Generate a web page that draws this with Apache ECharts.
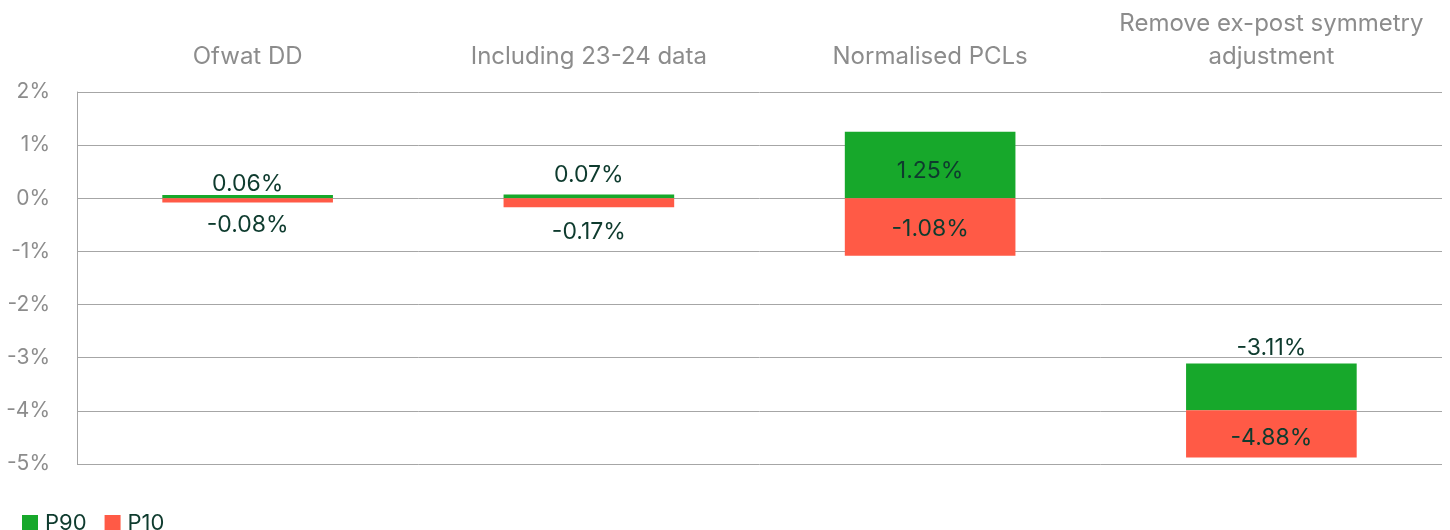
<!DOCTYPE html>
<html>
<head>
<meta charset="utf-8">
<script src="https://cdn.jsdelivr.net/npm/echarts@6/dist/echarts.min.js"></script>
<style>
html,body{margin:0;padding:0;background:#fff;}
#chart{width:1450px;height:530px;}
</style>
</head>
<body>
<div id="chart"></div>
<script>
// ---- data ----
const categories = ['Ofwat DD', 'Including 23-24 data', 'Normalised PCLs', 'Remove ex-post symmetry\nadjustment'];
const p90 = [0.06, 0.07, 1.25, -3.11];
const p10 = [-0.08, -0.17, -1.08, -4.88];
const base = [0, 0, 0, -3.99];   // floating base where the two bars meet
const yTicks = [-5, -4, -3, -2, -1, 0, 1, 2];

// ---- styling ----
const FONT = 'Inter';
const GREEN = '#17a82b';
const RED = '#ff5a46';
const LABEL = '#0e3b2e';
const AXIS = '#8c8c8c';
const p90Pos = ['top', 'top', 'inside', 'top'];
const p90Dist = [0, 8, 0, 4];
const p90Off = [[0, 0], [0, 0], [0, 6], [0, 0]];
const p10Pos = ['bottom', 'bottom', 'inside', 'inside'];
const p10Dist = [11, 13, 0, 0];
const p10Off = [[0, 0], [0, 0], [0, 2], [0, 4]];

const chart = echarts.init(document.getElementById('chart'));
const fmt = v => v.toFixed(2) + '%';

const p90Data = p90.map((v, i) => ({
  value: v - base[i],
  label: { position: p90Pos[i], distance: p90Dist[i], offset: p90Off[i], formatter: () => fmt(p90[i]) }
}));
const p10Data = p10.map((v, i) => ({
  value: v - base[i],
  label: { position: p10Pos[i], distance: p10Dist[i], offset: p10Off[i], formatter: () => fmt(p10[i]) }
}));

const labelStyle = { show: true, fontFamily: FONT, fontSize: 23, color: LABEL };

chart.setOption({
  animation: false,
  textStyle: { fontFamily: FONT },
  grid: { left: 77, right: 8, top: 92, bottom: 66, containLabel: false },
  legend: {
    data: ['P90', 'P10'],
    left: 17, top: 507,
    icon: 'rect', itemWidth: 16, itemHeight: 16, itemGap: 18,
    textStyle: { fontFamily: FONT, fontSize: 22, color: LABEL, padding: [0, 0, 0, 2] }
  },
  xAxis: {
    type: 'category',
    position: 'top',
    data: categories,
    axisLine: { show: false },
    axisTick: { show: false },
    axisLabel: { interval: 0, fontFamily: FONT, fontSize: 24, color: AXIS, margin: 19, lineHeight: 33 }
  },
  yAxis: {
    type: 'value',
    min: yTicks[0], max: yTicks[yTicks.length - 1], interval: 1,
    axisLine: { show: true, lineStyle: { color: '#a6a6a6', width: 1 } },
    axisTick: { show: false },
    splitLine: { lineStyle: { color: '#a6a6a6', width: 1 } },
    axisLabel: { formatter: '{value}%', fontFamily: FONT, fontSize: 21, color: AXIS, margin: 27, padding: [6, 0, 0, 0] }
  },
  series: [
    { name: 'base90', type: 'bar', stack: 'a', stackStrategy: 'all', data: base, barWidth: '50%', barGap: '-100%',
      itemStyle: { color: 'transparent' }, silent: true, label: { show: false } },
    { name: 'P90', type: 'bar', stack: 'a', stackStrategy: 'all', data: p90Data, barWidth: '50%', barGap: '-100%',
      itemStyle: { color: GREEN }, label: labelStyle },
    { name: 'base10', type: 'bar', stack: 'b', stackStrategy: 'all', data: base, barWidth: '50%', barGap: '-100%',
      itemStyle: { color: 'transparent' }, silent: true, label: { show: false } },
    { name: 'P10', type: 'bar', stack: 'b', stackStrategy: 'all', data: p10Data, barWidth: '50%', barGap: '-100%',
      itemStyle: { color: RED }, label: labelStyle }
  ]
});
</script>
</body>
</html>
